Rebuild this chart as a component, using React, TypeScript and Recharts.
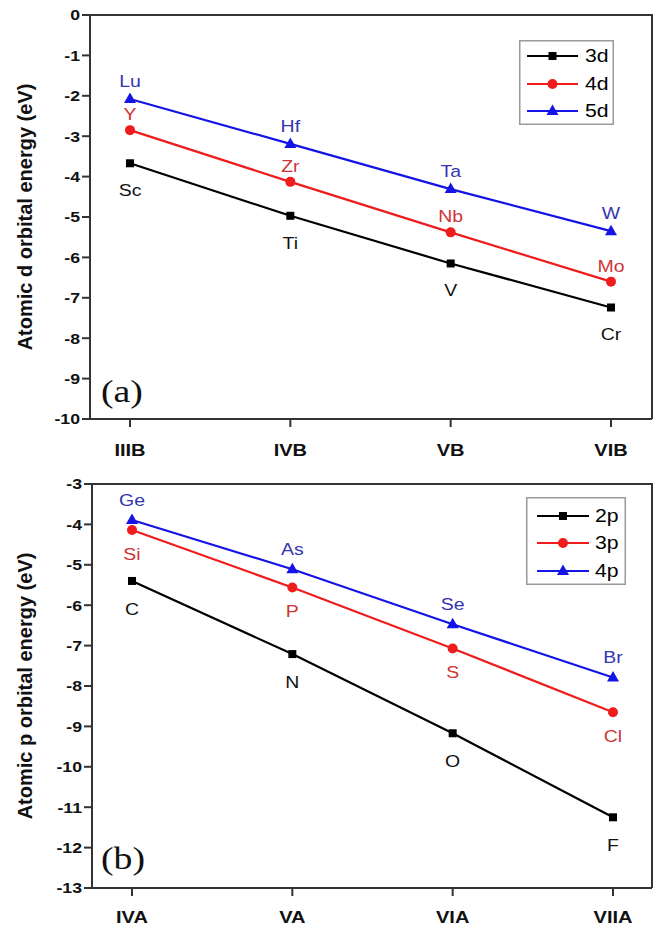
import React from 'react';
import { LineChart, Line, XAxis, YAxis, Legend, LabelList } from 'recharts';

// ---------- Data: panel (a) d orbitals ----------
const dGroups = ['IIIB', 'IVB', 'VB', 'VIB'];
const d3Values = [-3.67, -4.97, -6.15, -7.24];
const d4Values = [-2.85, -4.13, -5.38, -6.6];
const d5Values = [-2.08, -3.19, -4.31, -5.35];
const d3Elements = ['Sc', 'Ti', 'V', 'Cr'];
const d4Elements = ['Y', 'Zr', 'Nb', 'Mo'];
const d5Elements = ['Lu', 'Hf', 'Ta', 'W'];
const dTicks = [0, -1, -2, -3, -4, -5, -6, -7, -8, -9, -10];

// ---------- Data: panel (b) p orbitals ----------
const pGroups = ['IVA', 'VA', 'VIA', 'VIIA'];
const p2Values = [-5.4, -7.21, -9.17, -11.25];
const p3Values = [-4.14, -5.56, -7.07, -8.65];
const p4Values = [-3.89, -5.11, -6.47, -7.79];
const p2Elements = ['C', 'N', 'O', 'F'];
const p3Elements = ['Si', 'P', 'S', 'Cl'];
const p4Elements = ['Ge', 'As', 'Se', 'Br'];
const pTicks = [-3, -4, -5, -6, -7, -8, -9, -10, -11, -12, -13];

const FONT = '"Liberation Sans", Arial, Helvetica, sans-serif';
const SX = 1.18;
const AXIS = '#333333';
const BLACK = '#000000';
const RED = '#ee1c1c';
const BLUE = '#1414e6';

type Shape = 'square' | 'circle' | 'triangle';
type Series = {
  key: string;
  name: string;
  values: number[];
  elements: string[];
  color: string;
  labelColor: string;
  shape: Shape;
  side: 'above' | 'below';
  dist: number;
};

const dSeries: Series[] = [
  { key: 's3d', name: '3d', values: d3Values, elements: d3Elements, color: BLACK, labelColor: '#111111', shape: 'square', side: 'below', dist: 27 },
  { key: 's4d', name: '4d', values: d4Values, elements: d4Elements, color: RED, labelColor: '#d03434', shape: 'circle', side: 'above', dist: 16 },
  { key: 's5d', name: '5d', values: d5Values, elements: d5Elements, color: BLUE, labelColor: '#3535b0', shape: 'triangle', side: 'above', dist: 18 },
];

const pSeries: Series[] = [
  { key: 's2p', name: '2p', values: p2Values, elements: p2Elements, color: BLACK, labelColor: '#111111', shape: 'square', side: 'below', dist: 28 },
  { key: 's3p', name: '3p', values: p3Values, elements: p3Elements, color: RED, labelColor: '#d03434', shape: 'circle', side: 'below', dist: 24 },
  { key: 's4p', name: '4p', values: p4Values, elements: p4Elements, color: BLUE, labelColor: '#3535b0', shape: 'triangle', side: 'above', dist: 20 },
];

function buildRows(groups: string[], series: Series[]) {
  return groups.map((g, i) => {
    const row: Record<string, string | number> = { group: g };
    series.forEach((s) => {
      row[s.key] = s.values[i];
      row[s.key + '_el'] = s.elements[i];
    });
    return row;
  });
}

function SText(props: {
  x: number; y: number; anchor: 'start' | 'middle' | 'end'; size: number;
  weight?: number | string; color?: string; children: React.ReactNode;
}) {
  const { x, y, anchor, size, weight = 'normal', color = '#000', children } = props;
  return (
    <g transform={`translate(${x},${y}) scale(${SX},1)`}>
      <text x={0} y={0} textAnchor={anchor} fontSize={size} fontWeight={weight} fill={color} fontFamily={FONT}>
        {children}
      </text>
    </g>
  );
}

function Marker({ cx, cy, shape, color, scale = 1 }: { cx: number; cy: number; shape: Shape; color: string; scale?: number }) {
  if (cx == null || cy == null || isNaN(cx) || isNaN(cy)) return null;
  if (shape === 'square') {
    const h = 4 * scale;
    return <rect x={cx - h} y={cy - h} width={2 * h} height={2 * h} fill={color} />;
  }
  if (shape === 'circle') {
    return <circle cx={cx} cy={cy} r={5 * scale} fill={color} />;
  }
  const s = scale;
  return (
    <polygon
      points={`${cx},${cy - 6.5 * s} ${cx - 6 * s},${cy + 4 * s} ${cx + 6 * s},${cy + 4 * s}`}
      fill={color}
    />
  );
}

function LegendBox({ series, w, h, rows, lineX1, lineX2, textX }: {
  series: Series[]; w: number; h: number; rows: number[]; lineX1: number; lineX2: number; textX: number;
}) {
  const fs = 18;
  return (
    <svg width={w} height={h} style={{ display: 'block' }}>
      <rect x={0.75} y={0.75} width={w - 1.5} height={h - 1.5} fill="#ffffff" stroke="#9a9a9a" strokeWidth={1.5} />
      {series.map((s, i) => (
        <g key={s.key}>
          <line x1={lineX1} x2={lineX2} y1={rows[i]} y2={rows[i]} stroke={s.color} strokeWidth={2.2} />
          <Marker cx={(lineX1 + lineX2) / 2} cy={rows[i]} shape={s.shape} color={s.color} />
          <SText x={textX} y={rows[i] + 0.36 * fs} anchor="start" size={fs} color="#000">{s.name}</SText>
        </g>
      ))}
    </svg>
  );
}

type PanelProps = {
  groups: string[];
  series: Series[];
  ticks: number[];
  domain: [number, number];
  yTitle: string;
  letter: string;
  top: number;
  height: number;
  marginTop: number;
  xAxisHeight: number;
  yAxisWidth: number;
  padLeft: number;
  padRight: number;
  xTickMargin: number;
  legend: { left: number; top: number; w: number; h: number; rows: number[]; lineX1: number; lineX2: number; textX: number };
  letterTop: number;
};

function Panel(p: PanelProps) {
  const data = buildRows(p.groups, p.series);
  const yTickFs = 15;
  const xTickFs = 17;
  const plotRight = 655 - 3;
  const plotBottom = p.height - p.xAxisHeight;
  return (
    <div style={{ position: 'absolute', left: 0, top: p.top, width: 655, height: p.height }}>
      <LineChart
        width={655}
        height={p.height}
        data={data}
        margin={{ top: p.marginTop, right: 3, bottom: 0, left: 0 }}
      >
        <XAxis
          dataKey="group"
          padding={{ left: p.padLeft, right: p.padRight }}
          height={p.xAxisHeight}
          axisLine={{ stroke: AXIS, strokeWidth: 2 }}
          tickLine={{ stroke: AXIS, strokeWidth: 2 }}
          tickSize={8}
          tickMargin={p.xTickMargin}
          interval={0}
          tick={(t: any) => (
            <SText x={t.x} y={t.y + 0.72 * xTickFs} anchor="middle" size={xTickFs} weight="bold" color="#111">
              {t.payload.value}
            </SText>
          )}
        />
        <YAxis
          type="number"
          domain={p.domain}
          ticks={p.ticks}
          interval={0}
          width={p.yAxisWidth}
          axisLine={{ stroke: AXIS, strokeWidth: 2 }}
          tickLine={{ stroke: AXIS, strokeWidth: 2 }}
          tickSize={8}
          tickMargin={2}
          allowDataOverflow
          tick={(t: any) => (
            <SText x={t.x} y={t.y + 0.36 * yTickFs} anchor="end" size={yTickFs} weight="bold" color="#111">
              {t.payload.value}
            </SText>
          )}
          label={(lp: any) => {
            const vb = lp.viewBox || {};
            const cx = (vb.x ?? 0) + 32;
            const cy = (vb.y ?? 0) + (vb.height ?? 0) / 2;
            return (
              <text
                x={cx}
                y={cy}
                transform={`rotate(-90 ${cx} ${cy})`}
                textAnchor="middle"
                fontSize={20}
                fontWeight="bold"
                fontFamily={FONT}
                fill="#111"
              >
                {p.yTitle}
              </text>
            );
          }}
        />
        <Legend
          layout="vertical"
          align="center"
          verticalAlign="middle"
          wrapperStyle={{ left: p.legend.left, top: p.legend.top, width: p.legend.w, height: p.legend.h }}
          content={() => (
            <LegendBox
              series={p.series}
              w={p.legend.w}
              h={p.legend.h}
              rows={p.legend.rows}
              lineX1={p.legend.lineX1}
              lineX2={p.legend.lineX2}
              textX={p.legend.textX}
            />
          )}
        />
        {p.series.map((s) => (
          <Line
            key={s.key}
            dataKey={s.key}
            name={s.name}
            stroke={s.color}
            strokeWidth={2.2}
            isAnimationActive={false}
            dot={(d: any) => (
              <Marker key={`${s.key}-${d.index}`} cx={d.cx} cy={d.cy} shape={s.shape} color={s.color} />
            )}
            activeDot={false}
          >
            <LabelList
              dataKey={s.key + '_el'}
              content={(lp: any) => {
                const x = lp.x ?? lp.viewBox?.x;
                const y = lp.y ?? lp.viewBox?.y;
                if (x == null || y == null) return null;
                const fs = 16.5;
                const baseline = s.side === 'above' ? y - s.dist + 0.36 * fs : y + s.dist + 0.36 * fs;
                return (
                  <SText x={x} y={baseline} anchor="middle" size={fs} color={s.labelColor}>
                    {lp.value}
                  </SText>
                );
              }}
            />
          </Line>
        ))}
      </LineChart>
      {/* top and right frame of the plot box */}
      <div
        style={{
          position: 'absolute',
          left: p.yAxisWidth - 1,
          top: p.marginTop - 1,
          width: plotRight - p.yAxisWidth + 2,
          height: plotBottom - p.marginTop + 1,
          borderTop: `2px solid ${AXIS}`,
          borderRight: `2px solid ${AXIS}`,
          boxSizing: 'border-box',
          pointerEvents: 'none',
          zIndex: 5,
        }}
      />
      <div
        style={{
          position: 'absolute',
          left: 101,
          top: p.letterTop,
          fontFamily: '"Liberation Serif", "Times New Roman", serif',
          fontSize: 32,
          lineHeight: '32px',
          color: '#111',
          transform: `scale(${SX},1)`,
          transformOrigin: 'left top',
          whiteSpace: 'nowrap',
        }}
      >
        {p.letter}
      </div>
    </div>
  );
}

export default function App() {
  return (
    <div style={{ position: 'absolute', left: 0, top: 0, width: 655, height: 926, background: '#ffffff', overflow: 'hidden' }}>
      <Panel
        groups={dGroups}
        series={dSeries}
        ticks={dTicks}
        domain={[-10, 0]}
        yTitle="Atomic d orbital energy (eV)"
        letter="(a)"
        top={0}
        height={463}
        marginTop={15}
        xAxisHeight={44}
        yAxisWidth={90}
        padLeft={40}
        padRight={41}
        xTickMargin={17}
        legend={{ left: 519, top: 40, w: 95, h: 85, rows: [16, 44, 71], lineX1: 8, lineX2: 59, textX: 66 }}
        letterTop={375}
      />
      <Panel
        groups={pGroups}
        series={pSeries}
        ticks={pTicks}
        domain={[-13, -3]}
        yTitle="Atomic p orbital energy (eV)"
        letter="(b)"
        top={463}
        height={463}
        marginTop={21}
        xAxisHeight={38}
        yAxisWidth={92}
        padLeft={40}
        padRight={39}
        xTickMargin={15}
        legend={{ left: 526, top: 34, w: 100, h: 88, rows: [19, 46, 74], lineX1: 11, lineX2: 63, textX: 69 }}
        letterTop={842 - 463}
      />
    </div>
  );
}
